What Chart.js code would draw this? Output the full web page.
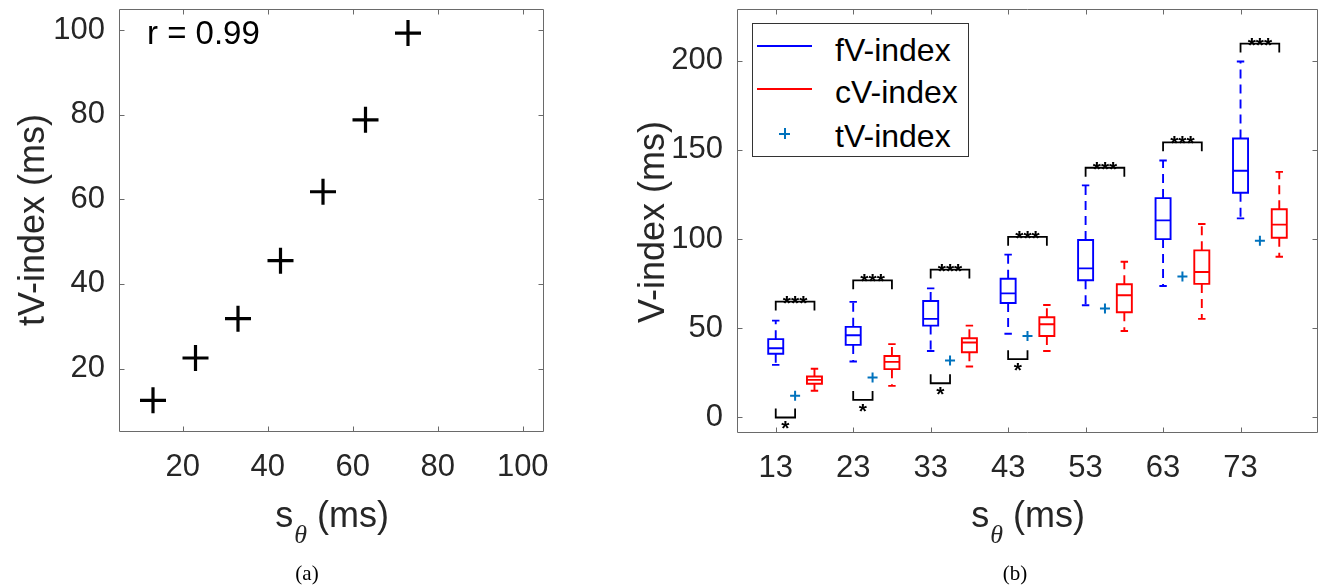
<!DOCTYPE html>
<html><head><meta charset="utf-8">
<script src="https://cdn.jsdelivr.net/npm/chart.js@4.4.1/dist/chart.umd.min.js"></script>
<style>
html,body{margin:0;padding:0;background:#fff;}
#wrap{position:relative;width:1324px;height:588px;overflow:hidden;font-family:"Liberation Sans",Arial,sans-serif;background:#fff;}
canvas{position:absolute;top:0;}
.t{position:absolute;white-space:nowrap;line-height:1;color:#262626;}
.xt{font-size:36px;transform:translateX(-50%);}
.xt i{font-family:"Liberation Serif",serif;font-size:26px;position:relative;top:16px;margin-left:1px;}
.yt{font-size:36px;transform:translate(-50%,-50%) rotate(-90deg);}
.cap{position:absolute;font-family:"Liberation Serif","Times New Roman",serif;font-size:21px;color:#000;transform:translateX(-50%);line-height:1;}
.lg{font-size:32px;color:#000;}
</style></head><body>
<div id="wrap">
<canvas id="ca" width="560" height="588" style="left:0;width:560px;height:588px"></canvas>
<canvas id="cb" width="764" height="588" style="left:560px;width:764px;height:588px"></canvas>

<div class="t" style="left:147px;top:16px;font-size:33px;color:#000;">r = 0.99</div>
<div class="t yt" style="left:32px;top:220px;">tV-index (ms)</div>
<div class="t xt" style="left:332px;top:497px;">s<i>θ</i> (ms)</div>
<div class="cap" style="left:307px;top:563px;">(a)</div>

<div class="t yt" style="left:652px;top:222px;">V-index (ms)</div>
<div class="t xt" style="left:1028px;top:497px;">s<i>θ</i> (ms)</div>
<div class="cap" style="left:1015px;top:563px;">(b)</div>

<div style="position:absolute;left:752px;top:23px;width:217px;height:134px;border:1px solid #333;background:#fff;box-sizing:border-box;"></div>
<div style="position:absolute;left:757px;top:45px;width:55px;height:2px;background:#0000ff;"></div>
<div style="position:absolute;left:757px;top:88px;width:55px;height:2px;background:#ff0000;"></div>
<div style="position:absolute;left:779px;top:133px;width:11px;height:2px;background:#0072BD;"></div>
<div style="position:absolute;left:784px;top:128px;width:2px;height:11px;background:#0072BD;"></div>
<div class="t lg" style="left:835px;top:34px;">fV-index</div>
<div class="t lg" style="left:835px;top:76px;">cV-index</div>
<div class="t lg" style="left:835px;top:120px;">tV-index</div>
</div>

<script>
// ---------- data ----------
// panel (a)
const sThetaA = [13, 23, 33, 43, 53, 63, 73];
const tvIndexA = [12.5, 22.5, 31.8, 45.5, 61.8, 78.8, 99.3];
const xTicksA = [20, 40, 60, 80, 100];
const yTicksA = [20, 40, 60, 80, 100];
// panel (b)
const groups = [13, 23, 33, 43, 53, 63, 73];
const fvMin = [29.5, 31.4, 37.3, 46.9, 62.9, 73.7, 111.6];
const fvQ1  = [35.7, 40.7, 51.5, 64.2, 76.9, 100.0, 126.0];
const fvMed = [38.8, 46.1, 55.3, 69.6, 83.6, 110.5, 138.3];
const fvQ3  = [43.9, 50.8, 65.3, 77.8, 99.5, 123.0, 156.4];
const fvMax = [54.3, 64.8, 72.4, 91.3, 130.1, 144.1, 199.6];
const cvMin = [15.0, 17.7, 28.6, 37.3, 48.5, 55.3, 90.1];
const cvQ1  = [18.9, 27.1, 36.6, 45.7, 59.0, 74.9, 100.8];
const cvMed = [21.1, 31.2, 42.0, 52.3, 68.5, 81.6, 108.1];
const cvQ3  = [23.0, 34.5, 44.4, 56.2, 74.7, 93.7, 116.7];
const cvMax = [27.3, 41.1, 51.5, 63.1, 87.3, 108.5, 137.7];
const tvB   = [12.2, 22.4, 31.9, 45.7, 61.1, 79.0, 99.1];
const sigTop = [65.0, 76.9, 82.9, 101.3, 140.0, 154.2, 209.6];     // fV vs cV: ***
const sigBottom = [0.0, 9.9, 19.2, 32.7, null, null, null];       // fV vs tV: *
const xTicksB = [13, 23, 33, 43, 53, 63, 73];
const yTicksB = [0, 50, 100, 150, 200];

// ---------- style constants ----------
const OFF_C = 5, OFF_T = 2.5, BOX_HW = 0.97, CAP_HW = 0.48, BR_TICK = 5;
const TICK_FONT = {family: '"Liberation Sans", Arial, sans-serif', size: 31};
const TICK_COLOR = '#262626';
const FRAME_COLOR = '#6a6a6a';

const framePlugin = {
  id: 'frame',
  afterDraw(chart) {
    const {ctx, chartArea: a, scales: {x, y}} = chart;
    ctx.save();
    ctx.strokeStyle = FRAME_COLOR;
    ctx.lineWidth = 1;
    const L = Math.round(a.left) + 0.5, R = Math.round(a.right) - 0.5,
          T = Math.round(a.top) + 0.5, B = Math.round(a.bottom) - 0.5;
    ctx.beginPath();
    ctx.rect(L, T, R - L, B - T);
    const tl = 5;
    x.ticks.forEach(t => {
      const p = Math.round(x.getPixelForValue(t.value)) + 0.5;
      ctx.moveTo(p, B); ctx.lineTo(p, B - tl);
      ctx.moveTo(p, T); ctx.lineTo(p, T + tl);
    });
    y.ticks.forEach(t => {
      const p = Math.round(y.getPixelForValue(t.value)) + 0.5;
      ctx.moveTo(L, p); ctx.lineTo(L + tl, p);
      ctx.moveTo(R, p); ctx.lineTo(R - tl, p);
    });
    ctx.stroke();
    ctx.restore();
  }
};

function noPad(s) { s.paddingTop = 0; s.paddingBottom = 0; s.paddingLeft = 0; s.paddingRight = 0; }
function axisOpts(min, max, tickVals, fit, pad) {
  return {
    type: 'linear', min, max,
    afterBuildTicks: s => { s.ticks = tickVals.map(v => ({value: v})); },
    afterFit: s => { fit(s); noPad(s); },
    grid: {display: false, drawTicks: false},
    border: {display: false},
    ticks: {font: TICK_FONT, color: TICK_COLOR, autoSkip: false, maxRotation: 0, padding: pad}
  };
}

// ---------- panel (a) ----------
new Chart(document.getElementById('ca'), {
  type: 'scatter',
  data: {datasets: [{
    data: sThetaA.map((x, i) => ({x, y: tvIndexA[i]})),
    pointStyle: 'cross', pointRadius: 13, pointBorderWidth: 3.2,
    pointBorderColor: '#000', pointBackgroundColor: '#000'
  }]},
  options: {
    responsive: false, animation: false, events: [],
    layout: {autoPadding: false, padding: {left: 0, right: 16, top: 9, bottom: 0}},
    plugins: {legend: {display: false}, tooltip: {enabled: false}},
    scales: {
      x: axisOpts(5, 105, xTicksA, s => { s.height = 156; }, 17),
      y: axisOpts(5, 105, yTicksA, s => { s.width = 119; }, 14)
    }
  },
  plugins: [framePlugin]
});

// ---------- panel (b) ----------
function boxPts(q1, med, q3, off) {
  const p = [];
  groups.forEach((g, i) => {
    const x = g + off;
    p.push({x: x - BOX_HW, y: q1[i]}, {x: x + BOX_HW, y: q1[i]}, {x: x + BOX_HW, y: q3[i]},
           {x: x - BOX_HW, y: q3[i]}, {x: x - BOX_HW, y: q1[i]}, {x: x, y: null},
           {x: x - BOX_HW, y: med[i]}, {x: x + BOX_HW, y: med[i]}, {x: x, y: null});
  });
  return p;
}
function whiskerPts(lo, q1, q3, hi, off) {
  const p = [];
  groups.forEach((g, i) => {
    const x = g + off;
    p.push({x, y: q3[i]}, {x, y: hi[i]}, {x, y: null}, {x, y: q1[i]}, {x, y: lo[i]}, {x, y: null});
  });
  return p;
}
function capPts(lo, hi, off) {
  const p = [];
  groups.forEach((g, i) => {
    const x = g + off;
    p.push({x: x - CAP_HW, y: hi[i]}, {x: x + CAP_HW, y: hi[i]}, {x, y: null},
           {x: x - CAP_HW, y: lo[i]}, {x: x + CAP_HW, y: lo[i]}, {x, y: null});
  });
  return p;
}
function bracketPts() {
  const p = [];
  groups.forEach((g, i) => {
    const x0 = g, x1 = g + OFF_C, t = sigTop[i];
    p.push({x: x0, y: t - BR_TICK}, {x: x0, y: t}, {x: x1, y: t}, {x: x1, y: t - BR_TICK}, {x: x0, y: null});
    const b = sigBottom[i];
    if (b !== null) {
      const x2 = g + OFF_T;
      p.push({x: x0, y: b + BR_TICK}, {x: x0, y: b}, {x: x2, y: b}, {x: x2, y: b + BR_TICK}, {x: x0, y: null});
    }
  });
  return p;
}
const lineDs = (data, color, extra) => Object.assign({
  data, borderColor: color, borderWidth: 1.9, pointRadius: 0, tension: 0, fill: false, spanGaps: false
}, extra || {});

const starPlugin = {
  id: 'stars',
  afterDatasetsDraw(chart) {
    const {ctx, scales: {x, y}} = chart;
    ctx.save();
    ctx.fillStyle = '#000';
    ctx.font = 'bold 21px "Liberation Sans", Arial, sans-serif';
    ctx.textAlign = 'center';
    ctx.textBaseline = 'alphabetic';
    groups.forEach((g, i) => {
      const px = x.getPixelForValue(g + OFF_C / 2), py = y.getPixelForValue(sigTop[i]);
      ctx.fillText('***', px, py + 8);
      if (sigBottom[i] !== null) {
        const qx = x.getPixelForValue(g + OFF_T / 2), qy = y.getPixelForValue(sigBottom[i]);
        ctx.fillText('*', qx, qy + 18);
      }
    });
    ctx.restore();
  }
};

new Chart(document.getElementById('cb'), {
  type: 'line',
  data: {datasets: [
    lineDs(boxPts(fvQ1, fvMed, fvQ3, 0), '#0000ff', {borderCapStyle: 'square'}),
    lineDs(whiskerPts(fvMin, fvQ1, fvQ3, fvMax, 0), '#0000ff', {borderDash: [9, 6]}),
    lineDs(capPts(fvMin, fvMax, 0), '#0000ff'),
    lineDs(boxPts(cvQ1, cvMed, cvQ3, OFF_C), '#ff0000', {borderCapStyle: 'square'}),
    lineDs(whiskerPts(cvMin, cvQ1, cvQ3, cvMax, OFF_C), '#ff0000', {borderDash: [9, 6]}),
    lineDs(capPts(cvMin, cvMax, OFF_C), '#ff0000'),
    lineDs(bracketPts(), '#000', {borderWidth: 1.8}),
    {data: groups.map((g, i) => ({x: g + OFF_T, y: tvB[i]})), showLine: false,
     pointStyle: 'cross', pointRadius: 5, pointBorderWidth: 2, pointBorderColor: '#0072BD',
     pointBackgroundColor: '#0072BD'}
  ]},
  options: {
    responsive: false, animation: false, events: [],
    layout: {autoPadding: false, padding: {left: 0, right: 6, top: 9, bottom: 0}},
    plugins: {legend: {display: false}, tooltip: {enabled: false}},
    scales: {
      x: axisOpts(8, 83, xTicksB, s => { s.height = 155; }, 17),
      y: axisOpts(-8.7, 229, yTicksB, s => { s.width = 177; }, 14)
    }
  },
  plugins: [framePlugin, starPlugin]
});
</script>
</body></html>
